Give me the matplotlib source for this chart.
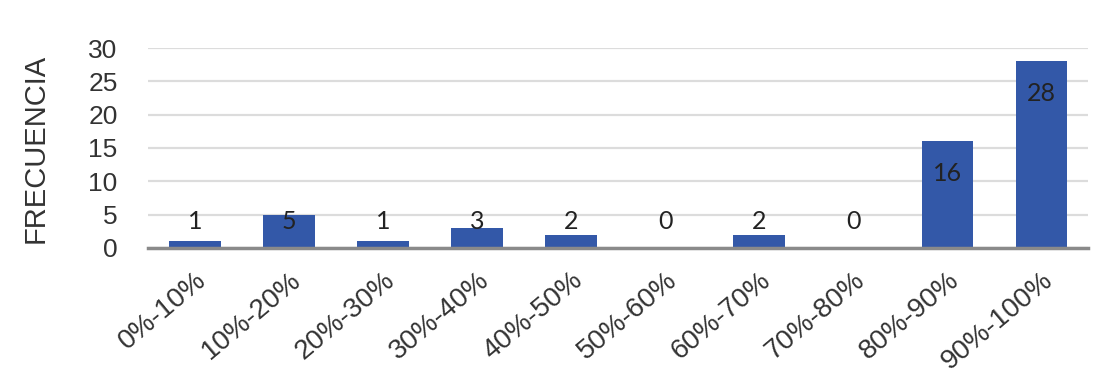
import matplotlib
matplotlib.use('Agg')
import matplotlib.pyplot as plt
import numpy as np

CATEGORIES = ['0%-10%', '10%-20%', '20%-30%', '30%-40%', '40%-50%',
              '50%-60%', '60%-70%', '70%-80%', '80%-90%', '90%-100%']
FRECUENCIA = [1, 5, 1, 3, 2, 0, 2, 0, 16, 28]
Y_TICKS = [0, 5, 10, 15, 20, 25, 30]

BAR_COLOR = '#3358a8'
GRID_COLOR = '#dcdcdc'
AXIS_COLOR = '#8a8a8a'

plt.rcParams['font.family'] = ['Liberation Sans', 'DejaVu Sans']

fig = plt.figure(figsize=(11.05, 3.79), dpi=100)
ax = fig.add_axes([0.134, 0.346, 0.851, 0.527])

x = np.arange(len(CATEGORIES))
ax.bar(x, FRECUENCIA, width=0.55, color=BAR_COLOR, zorder=3)

# data labels: inside end, pushed above the baseline for short bars
for xi, v in zip(x, FRECUENCIA):
    ax.text(xi, max(v - 4.8, 3.9), str(v), ha='center', va='center',
            fontsize=18, color='#222222', family=['Lato', 'DejaVu Sans'],
            zorder=4)

ax.set_xlim(-0.5, len(CATEGORIES) - 0.5)
ax.set_ylim(0, 30)
ax.set_yticks(Y_TICKS)
ax.yaxis.grid(True, color=GRID_COLOR, linewidth=1.6, zorder=0)
ax.set_axisbelow(True)

for s in ['top', 'right', 'left']:
    ax.spines[s].set_visible(False)
ax.spines['bottom'].set_color(AXIS_COLOR)
ax.spines['bottom'].set_linewidth(2.5)
ax.spines['bottom'].set_zorder(5)

ax.tick_params(axis='both', length=0, labelsize=19, colors='#333333')
ax.tick_params(axis='y', pad=22)
ax.set_xticks(x)
ax.set_xticklabels(CATEGORIES, rotation=40, ha='right',
                   rotation_mode='anchor')
ax.tick_params(axis='x', pad=14, labelsize=20)

ax.set_ylabel('FRECUENCIA', fontsize=21, color='#333333', labelpad=28)

fig.savefig('out.png', dpi=100)
